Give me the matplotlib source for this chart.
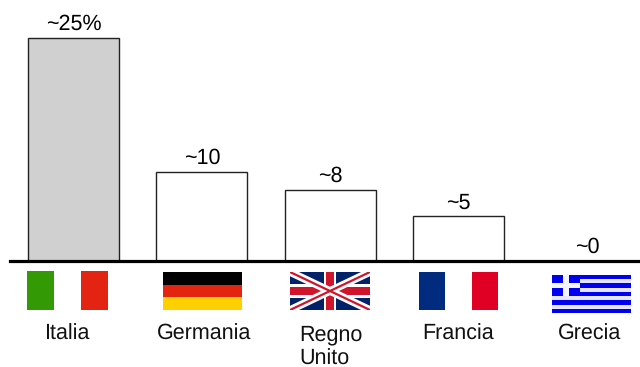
import matplotlib
matplotlib.use('Agg')
from matplotlib import pyplot as plt
from matplotlib.patches import Rectangle

W, H = 640, 367

countries = ['Italia', 'Germania', 'Regno\nUnito', 'Francia', 'Grecia']
values = [25, 10, 8, 5, 0]
value_labels = ['~25%', '~10', '~8', '~5', '~0']
bar_colors = ['#d0d0d0', 'white', 'white', 'white', 'white']

plt.rcParams['font.family'] = ['Liberation Sans', 'DejaVu Sans']
plt.rcParams['text.hinting'] = 'none'

fig = plt.figure(figsize=(W / 100, H / 100), dpi=100)
ax = fig.add_axes([0, 0, 1, 1])

# scale: one unit is 8.92 px, bars are 128.4 px apart
ax.set_xlim(-73.5 / 128.4, (W - 73.5) / 128.4)
ax.set_ylim(-(H - 261) / 8.92, 261 / 8.92)
ax.axis('off')

x = list(range(len(values)))
ax.bar(x, values, width=91 / 128.4, color=bar_colors, edgecolor='#222222', linewidth=1)
ax.axhline(0, xmin=10 / W, xmax=1, color='black', linewidth=2.3, zorder=5)

for i, v, lab in zip(x, values, value_labels):
    ax.annotate(lab, (i, v), xytext=(0, 2.5), textcoords='offset points',
                ha='center', va='bottom', fontsize=15.5, color='black')


def flag_axes(left, top, right, bottom):
    a = fig.add_axes([left / W, 1 - bottom / H, (right - left) / W, (bottom - top) / H])
    a.set_xlim(0, 1)
    a.set_ylim(0, 1)
    a.axis('off')
    return a


def rect(a, x0, y0, w, h, c):
    a.add_patch(Rectangle((x0, y0), w, h, facecolor=c, edgecolor='none'))


# tricolori verticali
a = flag_axes(27, 271, 108, 310)
for i, c in enumerate(['#339a05', 'white', '#e32412']):
    rect(a, i / 3, 0, 1 / 3, 1, c)

a = flag_axes(419, 272, 498, 310)
for i, c in enumerate(['#002b7f', 'white', '#df0024']):
    rect(a, i / 3, 0, 1 / 3, 1, c)

# Germania
a = flag_axes(163, 272, 242, 310)
for i, c in enumerate(['#ffd000', '#e3240f', 'black']):
    rect(a, 0, i / 3, 1, 1 / 3, c)

# Regno Unito
a = flag_axes(290, 272, 370, 310)
rect(a, 0, 0, 1, 1, '#012169')
a.plot([0, 1], [0, 1], color='white', linewidth=5.5, solid_capstyle='butt')
a.plot([0, 1], [1, 0], color='white', linewidth=5.5, solid_capstyle='butt')
a.plot([0, 1], [0, 1], color='#d0142c', linewidth=1.6, solid_capstyle='butt')
a.plot([0, 1], [1, 0], color='#d0142c', linewidth=1.6, solid_capstyle='butt')
rect(a, 0.42, 0, 0.16, 1, 'white')
rect(a, 0, 0.325, 1, 0.35, 'white')
rect(a, 0.45, 0, 0.10, 1, '#d0142c')
rect(a, 0, 0.405, 1, 0.19, '#d0142c')

# Grecia
a = flag_axes(552, 275, 631, 313)
for i in range(9):
    rect(a, 0, i / 9, 1, 1 / 9, '#0000f0' if i % 2 == 0 else '#e4e4ff')
rect(a, 0, 4 / 9, 0.36, 5 / 9, '#0000f0')
rect(a, 0.14, 4 / 9, 0.08, 5 / 9, '#f4f4ff')
rect(a, 0, 6 / 9, 0.36, 1 / 9, '#f4f4ff')

# nomi dei paesi sotto le bandiere, una riga alla volta
label_x = [67, 204, 299, 458, 590]
for name, lx in zip(countries, label_x):
    lines = name.split('\n')
    ha = 'left' if len(lines) > 1 else 'center'
    for n, line in enumerate(lines):
        fig.text(lx / W, 1 - (340 + 24.5 * n) / H, line, ha=ha, va='baseline',
                 fontsize=15.5, color='#111111')

fig.savefig('out.png', dpi=100)
